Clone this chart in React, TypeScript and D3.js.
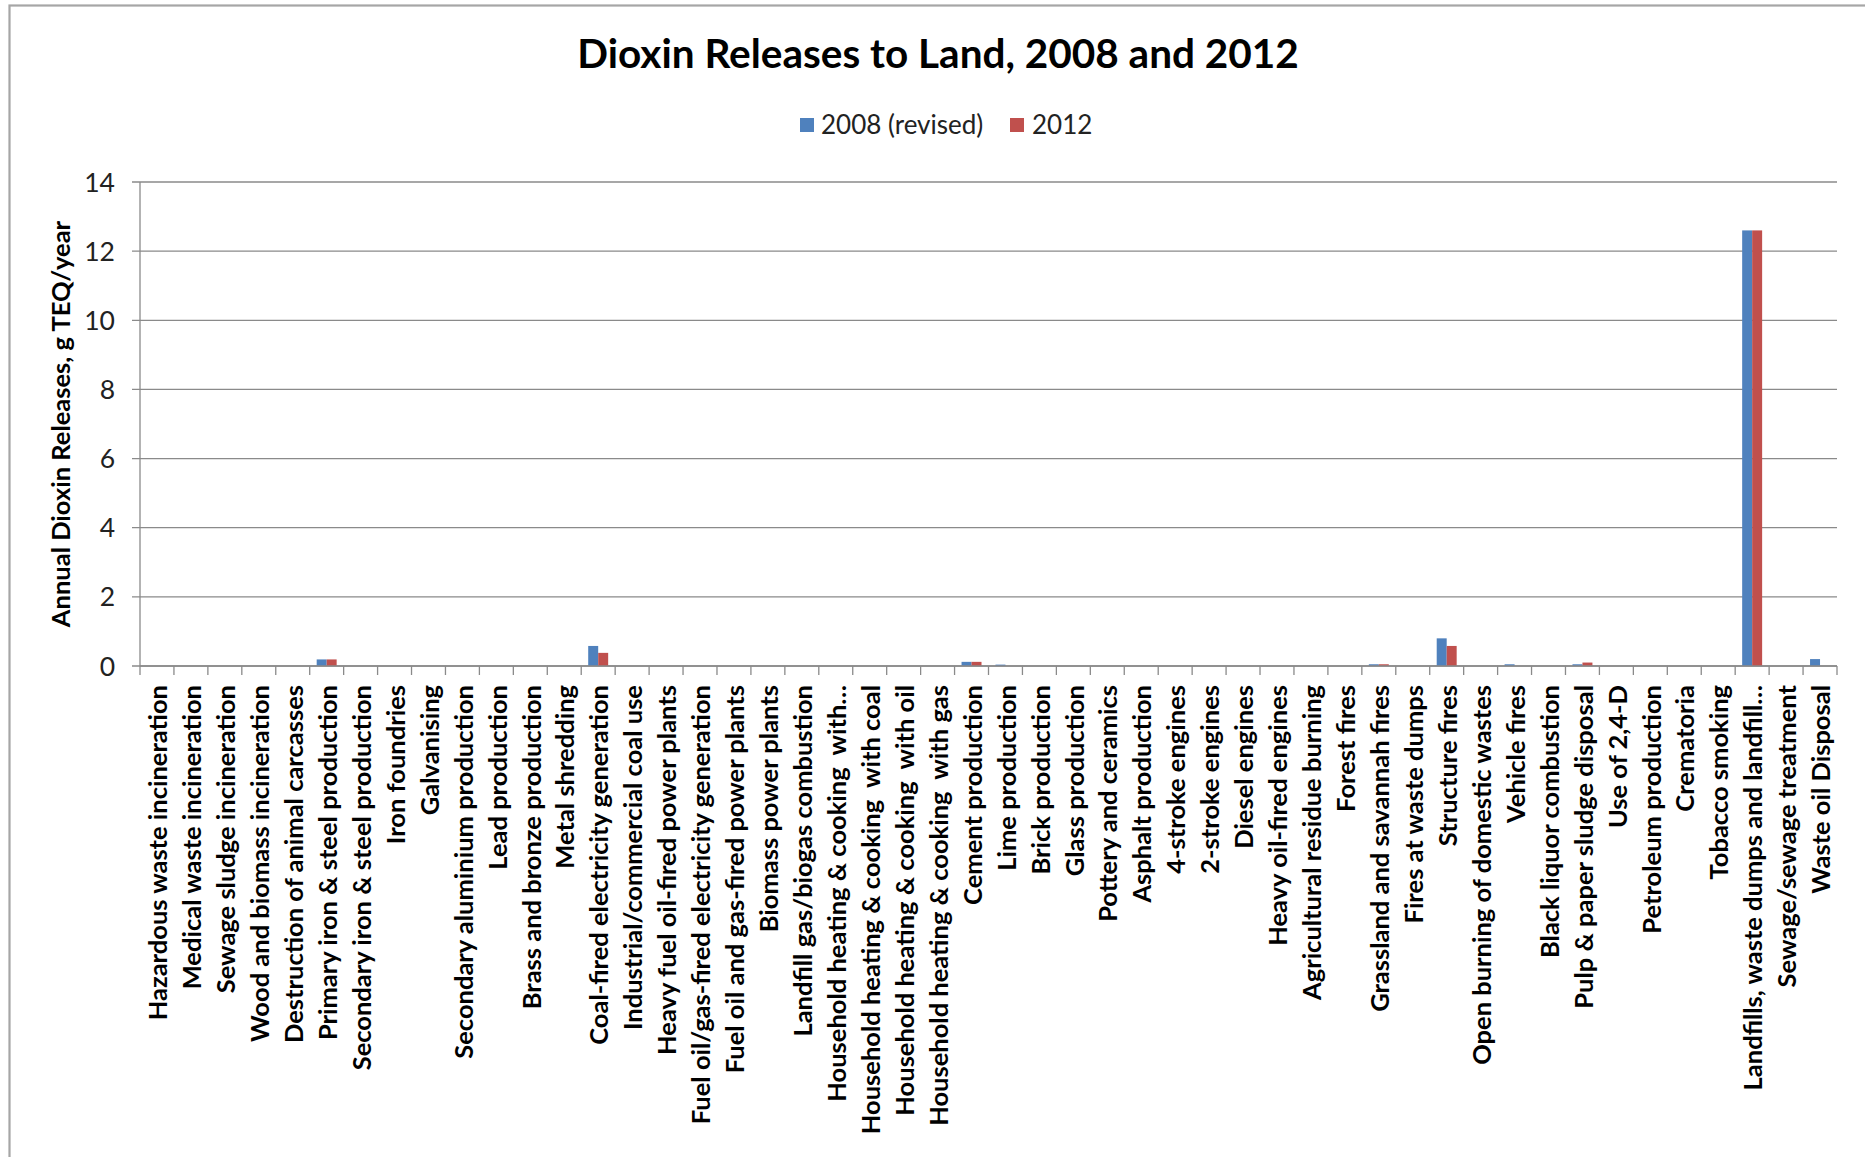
import React from "react";
import * as d3 from "d3";

const categories: string[] = [
  "Hazardous waste incineration",
  "Medical waste incineration",
  "Sewage sludge incineration",
  "Wood and biomass incineration",
  "Destruction of animal carcasses",
  "Primary iron & steel production",
  "Secondary iron & steel production",
  "Iron foundries",
  "Galvanising",
  "Secondary aluminium production",
  "Lead production",
  "Brass and bronze production",
  "Metal shredding",
  "Coal-fired electricity generation",
  "Industrial/commercial coal use",
  "Heavy fuel oil-fired power plants",
  "Fuel oil/gas-fired electricity generation",
  "Fuel oil and gas-fired power plants",
  "Biomass power plants",
  "Landfill gas/biogas combustion",
  "Household heating & cooking  with…",
  "Household heating & cooking  with coal",
  "Household heating & cooking  with oil",
  "Household heating & cooking  with gas",
  "Cement production",
  "Lime production",
  "Brick production",
  "Glass production",
  "Pottery and ceramics",
  "Asphalt production",
  "4-stroke engines",
  "2-stroke engines",
  "Diesel engines",
  "Heavy oil-fired engines",
  "Agricultural residue burning",
  "Forest fires",
  "Grassland and savannah fires",
  "Fires at waste dumps",
  "Structure fires",
  "Open burning of domestic wastes",
  "Vehicle fires",
  "Black liquor combustion",
  "Pulp & paper sludge disposal",
  "Use of 2,4-D",
  "Petroleum production",
  "Crematoria",
  "Tobacco smoking",
  "Landfills, waste dumps and landfill…",
  "Sewage/sewage treatment",
  "Waste oil Disposal",
];

const values2008: number[] = [
  0, 0, 0, 0, 0, 0.19, 0, 0, 0, 0,
  0, 0, 0, 0.58, 0, 0, 0, 0, 0, 0,
  0, 0, 0, 0, 0.12, 0.04, 0, 0, 0, 0,
  0, 0, 0, 0, 0, 0, 0.05, 0, 0.8, 0,
  0.05, 0, 0.05, 0, 0, 0, 0, 12.6, 0, 0.2,
];

const values2012: number[] = [
  0, 0, 0, 0, 0, 0.19, 0, 0, 0, 0,
  0, 0, 0, 0.38, 0, 0, 0, 0, 0, 0,
  0, 0, 0, 0, 0.12, 0, 0, 0, 0, 0,
  0, 0, 0, 0, 0, 0, 0.05, 0, 0.58, 0,
  0, 0, 0.1, 0, 0, 0, 0, 12.6, 0, 0,
];

const seriesNames: string[] = ["2008 (revised)", "2012"];
const seriesColors: string[] = ["#4F81BD", "#C0504D"];
const yTicks: number[] = [0, 2, 4, 6, 8, 10, 12, 14];

const W = 1865;
const H = 1157;
const FONT = "Lato, 'Open Sans', sans-serif";

export default function App() {
  const left = 140;
  const right = 1837;
  const top = 182;
  const bottom = 666;

  const x0 = d3.scaleBand<string>().domain(categories).range([left, right]).padding(0);
  const bw = x0.bandwidth();
  const barW = bw / 3.4;
  const gap = bw - 2 * barW;
  const x1 = d3
    .scaleBand<string>()
    .domain(seriesNames)
    .range([gap / 2, bw - gap / 2])
    .padding(0);
  const y = d3.scaleLinear().domain([0, 14]).range([bottom, top]);

  const seriesData = [values2008, values2012];
  const gridColor = "#8a8a8a";

  const boundaries = d3.range(categories.length + 1).map((i) => left + i * bw);

  return (
    <svg
      width={W}
      height={H}
      style={{ position: "absolute", left: 0, top: 0, display: "block", background: "#fff" }}
    >
      <rect x={0} y={0} width={W} height={H} fill="#fff" />
      <rect
        x={9.5}
        y={5.5}
        width={W + 20}
        height={H + 20}
        fill="none"
        stroke="#a6a6a6"
        strokeWidth={2.2}
      />
      <text
        x={938}
        y={68}
        textAnchor="middle"
        fontFamily={FONT}
        fontWeight={700}
        fontSize={40.5}
        fill="#000"
      >
        Dioxin Releases to Land, 2008 and 2012
      </text>

      {/* legend */}
      <rect x={800} y={118} width={14} height={14} fill={seriesColors[0]} />
      <text x={821} y={134} fontFamily={FONT} fontSize={26} fill="#222">
        {seriesNames[0]}
      </text>
      <rect x={1010} y={118} width={14} height={14} fill={seriesColors[1]} />
      <text x={1032} y={134} fontFamily={FONT} fontSize={26} fill="#222">
        {seriesNames[1]}
      </text>

      {/* gridlines & y ticks */}
      {yTicks.map((t) => (
        <g key={t}>
          <line x1={left - 8} x2={right} y1={y(t)} y2={y(t)} stroke={gridColor} strokeWidth={1.3} />
          <text
            x={115}
            y={y(t)}
            dy="0.36em"
            textAnchor="end"
            fontFamily={FONT}
            fontSize={26.5}
            fill="#222"
          >
            {t}
          </text>
        </g>
      ))}
      <line x1={left} x2={left} y1={top} y2={bottom} stroke={gridColor} strokeWidth={1.3} />

      {/* y title */}
      <text
        transform={`translate(70, ${(top + bottom) / 2}) rotate(-90)`}
        textAnchor="middle"
        fontFamily={FONT}
        fontWeight={700}
        fontSize={25.5}
        fill="#000"
      >
        Annual Dioxin Releases, g TEQ/year
      </text>

      {/* bars */}
      {categories.map((c, i) => (
        <g key={c} transform={`translate(${x0(c)},0)`}>
          {seriesNames.map((s, k) => {
            const v = seriesData[k][i];
            if (!v) return null;
            return (
              <rect
                key={s}
                x={x1(s)}
                y={y(v)}
                width={x1.bandwidth()}
                height={y(0) - y(v)}
                fill={seriesColors[k]}
              />
            );
          })}
        </g>
      ))}

      {/* x axis */}
      <line x1={left} x2={right} y1={bottom} y2={bottom} stroke={gridColor} strokeWidth={1.3} />
      {boundaries.map((bx, i) => (
        <line key={i} x1={bx} x2={bx} y1={bottom} y2={bottom + 9} stroke={gridColor} strokeWidth={1.3} />
      ))}
      {categories.map((c) => (
        <text
          key={c}
          transform={`translate(${(x0(c) as number) + bw / 2}, 685) rotate(-90)`}
          dy="0.4em"
          textAnchor="end"
          fontFamily={FONT}
          fontWeight={700}
          fontSize={25.5}
          fill="#000"
          style={{ whiteSpace: "pre" }}
        >
          {c}
        </text>
      ))}
    </svg>
  );
}
